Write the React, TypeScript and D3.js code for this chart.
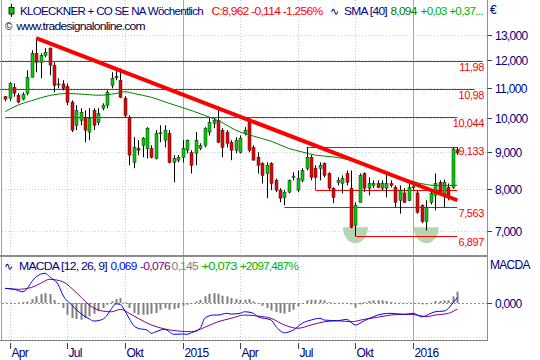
import React from 'react';
import * as d3 from 'd3';

const W = 540;
const H = 360;
const FONT = '"Liberation Sans", Arial, Helvetica, sans-serif';
const NAVY = '#000080';

// weekly candles, first week ending 2014-03-28
const firstWeek = '2014-03-28';
const open = [10.70,10.65,11.02,10.75,10.62,10.82,11.38,12.27,11.93,12.19,12.47,11.82,11.12,11.14,11.05,10.52,9.78,9.93,10.03,9.57,10.25,9.87,10.32,10.42,11.09,11.36,11.27,10.65,10.03,8.70,9.09,9.18,9.09,9.09,8.81,9.53,9.33,9.53,8.70,8.76,8.84,9.04,8.98,8.95,9.09,9.18,9.57,9.84,9.93,9.63,9.57,9.27,9.04,8.98,9.53,9.87,9.12,8.84,8.67,8.40,8.67,8.22,7.97,7.79,7.92,8.30,7.97,8.22,8.54,8.84,8.54,8.54,8.67,8.40,8.02,8.17,8.14,8.40,8.02,7.13,7.67,8.40,8.02,8.09,8.14,8.02,8.02,8.14,8.04,7.72,7.90,7.72,8.04,7.90,7.60,7.22,7.67,7.84,8.17,7.84,8.04,8.04,9.05];
const high = [10.72,11.20,11.16,10.82,10.85,11.63,12.39,12.87,12.27,12.47,12.50,11.93,11.34,11.27,11.16,10.58,10.42,10.32,10.25,10.32,10.32,10.32,10.48,10.92,11.56,11.63,11.70,10.72,10.09,9.42,9.33,9.42,9.72,9.18,9.63,9.78,9.78,9.63,8.90,8.90,9.33,9.35,9.04,9.57,9.24,9.72,10.03,10.00,10.38,9.69,9.63,9.33,9.42,9.47,9.72,10.00,9.18,8.98,8.70,8.70,8.70,8.27,8.02,7.97,8.24,8.43,8.48,8.54,9.12,8.90,8.62,8.70,8.70,8.43,8.04,8.30,8.35,8.48,8.48,7.67,8.40,8.43,8.30,8.22,8.22,8.22,8.40,8.22,8.09,8.09,8.02,8.14,8.09,7.95,7.62,7.72,7.97,8.40,8.22,8.24,8.14,9.12,9.133];
const low = [10.55,10.55,10.70,10.48,10.58,10.75,11.38,11.56,11.34,12.12,11.45,10.85,10.99,10.92,10.42,9.57,9.63,9.78,9.27,9.33,9.63,9.78,10.25,10.32,10.99,11.27,10.65,10.03,8.62,8.54,8.90,8.84,8.81,8.81,8.78,9.27,9.12,8.67,8.17,8.70,8.70,8.95,8.40,8.62,9.04,9.12,9.47,9.69,9.24,8.84,9.12,8.76,8.95,8.95,9.47,8.98,8.76,8.40,8.14,7.77,7.97,7.92,7.67,7.60,7.89,8.22,7.92,8.17,8.48,8.22,8.27,8.22,8.30,7.97,7.65,8.09,7.89,8.09,7.07,6.897,7.67,7.92,7.84,8.02,8.02,7.97,7.79,8.04,7.55,7.40,7.65,7.70,7.97,7.40,7.18,7.02,7.62,7.48,7.84,7.55,7.72,8.00,8.90];
const close = [10.62,11.16,10.82,10.52,10.78,11.38,12.27,11.93,12.19,12.31,11.82,11.09,11.14,10.99,10.52,9.63,10.25,10.19,9.63,10.00,9.78,10.15,10.42,10.85,11.34,11.40,10.68,10.09,8.90,9.12,9.04,9.39,9.69,8.84,9.53,9.55,9.63,8.70,8.81,8.84,9.09,9.33,8.62,9.33,9.18,9.69,9.87,9.93,9.27,9.12,9.24,9.04,9.33,9.39,9.63,9.04,8.76,8.62,8.35,8.62,8.14,7.97,7.77,7.92,8.22,8.33,8.27,8.48,8.84,8.30,8.30,8.62,8.35,8.02,7.79,8.22,8.27,8.17,7.09,7.60,8.35,8.02,8.14,8.14,8.04,8.14,8.14,8.09,7.67,7.97,7.67,8.04,8.06,7.43,7.22,7.55,7.89,8.14,7.92,8.17,7.84,9.076,8.962];

// SMA 40 (candle number, value)
const smaIdx = [1,4,7,11,15,19,22,26,28,30,34,38,41,46,50,53,57,61,65,68,71,75,79,83,86,90,94,98,101,103];
const smaVal = [10.21,10.43,10.57,10.74,10.81,10.78,10.75,10.81,10.87,10.81,10.68,10.48,10.34,10.09,9.86,9.63,9.45,9.30,9.09,8.99,8.90,8.85,8.76,8.60,8.48,8.30,8.16,8.09,8.09,8.094];

// MACD line
const macdIdx = [1,3,5,6,7,8,10,11,13,14,16,18,20,21,23,24,25,26,27,28,29,30,31,33,34,35,37,38,39,41,42,43,45,46,48,49,51,52,54,55,57,58,61,62,64,66,68,70,72,73,76,78,80,82,84,86,88,91,93,95,98,100,101,102,103];
const macdVal = [0.188,0.176,0.145,0.188,0.273,0.337,0.381,0.337,0.231,0.103,-0.026,-0.132,-0.205,-0.231,-0.209,-0.154,-0.07,-0.01,-0.02,-0.10,-0.20,-0.29,-0.324,-0.346,-0.388,-0.368,-0.337,-0.368,-0.401,-0.397,-0.401,-0.381,-0.324,-0.196,-0.154,-0.154,-0.132,-0.141,-0.132,-0.112,-0.132,-0.176,-0.218,-0.295,-0.381,-0.346,-0.260,-0.218,-0.196,-0.218,-0.227,-0.209,-0.282,-0.227,-0.176,-0.141,-0.132,-0.145,-0.132,-0.176,-0.112,-0.103,-0.068,0.0,0.069];
// signal line
const sigIdx = [1,4,7,9,11,14,16,18,20,23,25,27,29,31,34,37,40,43,46,49,52,55,58,61,64,67,70,73,76,79,82,85,88,91,94,96,98,101,103];
const sigVal = [0.188,0.176,0.201,0.253,0.304,0.273,0.188,0.081,-0.026,-0.103,-0.112,-0.081,-0.132,-0.196,-0.282,-0.333,-0.359,-0.368,-0.312,-0.240,-0.196,-0.154,-0.167,-0.196,-0.282,-0.324,-0.282,-0.240,-0.227,-0.240,-0.209,-0.183,-0.154,-0.145,-0.154,-0.176,-0.154,-0.132,-0.076];
// histogram, one per candle
const histVal = [0.006,0.006,-0.006,0.006,0.013,0.019,
  0.051,0.086,0.115,0.128,0.115,0.038,-0.013,-0.064,-0.15,-0.192,-0.205,-0.214,-0.192,-0.171,-0.137,-0.106,-0.064,-0.022,0.022,0.051,0.064,0.009,-0.064,-0.128,-0.15,-0.15,-0.15,-0.137,-0.128,-0.086,-0.064,-0.086,-0.077,-0.064,-0.035,-0.022,-0.009,0.022,0.042,0.086,0.119,0.128,0.119,0.094,0.086,0.064,0.051,0.042,0.042,0.051,0.022,0,-0.035,-0.064,
  -0.094,-0.115,-0.128,-0.137,-0.115,-0.086,-0.042,0,0.035,0.042,0.042,0.042,0.035,0.013,0.003,0.003,0.003,0.003,-0.017,-0.06,-0.017,0.013,0.026,0.035,0.035,0.035,0.026,0.013,0.006,0.006,0.003,0.006,0.006,0.003,-0.017,-0.017,0.003,0.026,0.026,0.035,0.035,0.086,0.145];

const priceTicks = [7, 8, 9, 10, 11, 12, 13];
const priceTickLabels = ['7,000', '8,000', '9,000', '10,000', '11,000', '12,000', '13,000'];
const timeTicks = ['2014-04-04', '2014-07-04', '2014-10-03', '2015-01-02', '2015-04-03', '2015-07-03', '2015-10-02', '2016-01-01'];
const timeTickLabels = ['Apr', 'Jul', 'Okt', '2015', 'Apr', 'Jul', 'Okt', '2016'];

// horizontal levels (week position from/to)
const levelPrices = [11.98, 10.98, 10.044, 9.133, 7.97, 7.563, 6.897];
const levelFrom = [-0.3, -0.3, 1, 69, 71, 64, 80];
const levelTo = [108.7, 106.9, 103, 103, 103, 103, 103];
const levelLabels = ['11,98', '10,98', '10,044', '9,133', '', '7,563', '6,897'];
// box verticals
const boxIdx = [69, 71];
const boxTop = [9.133, 8.5];
const boxBottom = [8.87, 7.97];
// trendline
const trendIdx = [8, 103];
const trendPrice = [12.87, 7.72];
// double bottom markers
const bottomIdx = [80, 96];
const bottomTop = [7.09, 7.09];

// header texts: [text, x, width, colour]
const headerSegs: [string, number, number, string][] = [
  ['KLOECKNER + CO SE NA Wöchentlich', 20, 183, NAVY],
  ['C:8,962 -0,114 -1,256%', 211.5, 111, '#ff0000'],
  ['SMA [40]', 344, 43, NAVY],
  ['8,094', 390.5, 26, '#008000'],
  ['+0,03 +0,37...', 420.5, 62.5, '#00b000'],
];
const macdSegs: [string, number, number, string][] = [
  ['MACDA [12, 26, 9]', 19, 88, NAVY],
  ['0,069', 110.5, 26, '#0000ff'],
  ['-0,076', 140, 30, '#800080'],
  ['0,145', 171.5, 26.5, '#808080'],
  ['+0,073', 201.5, 35, '#00b000'],
  ['+2097,487%', 240, 58, '#00b000'],
];

const parse = d3.utcParse('%Y-%m-%d');

export default function App() {
  const start = parse(firstWeek) as Date;
  const weekDate = (n: number) => new Date(start.getTime() + (n - 1) * 7 * 86400000);
  const dates = open.map((_, i) => weekDate(i + 1));
  const x = d3.scaleUtc().domain([parse('2015-01-02') as Date, parse('2016-01-01') as Date]).range([182.5, 413]);
  const y = d3.scaleLog().domain([7, 13]).range([231.3, 35]);
  const ym = d3.scaleLinear().domain([-0.474, 0.603]).range([340, 256]);
  const xi = (n: number) => x(weekDate(n));

  const line = d3.line<[number, number]>().curve(d3.curveMonotoneX);
  const smaPath = line(smaIdx.map((n, k) => [xi(n), y(smaVal[k])]));
  const macdPath = line(macdIdx.map((n, k) => [xi(n), ym(macdVal[k])]));
  const sigPath = line(sigIdx.map((n, k) => [xi(n), ym(sigVal[k])]));

  const PR = 487.5; // right edge of plot
  const zero = ym(0);
  const crisp = (v: number) => Math.round(v) + 0.5;

  return (
    <svg width={W} height={H} style={{ position: 'absolute', left: 0, top: 0, background: '#fff' }}>
      <rect x={0} y={0} width={W} height={H} fill="#ffffff" />
      {/* horizontal grid */}
      {priceTicks.map((p) => (
        <line key={'hg' + p} x1={2} x2={PR} y1={crisp(y(p))} y2={crisp(y(p))} stroke="#cdcdcd" strokeDasharray="1,2" />
      ))}
      <line x1={2} x2={PR} y1={337.5} y2={337.5} stroke="#cdcdcd" strokeDasharray="1,2" />
      {/* vertical grid */}
      {timeTicks.map((t, i) => {
        const xx = crisp(x(parse(t) as Date));
        const yr = /^\d{4}$/.test(timeTickLabels[i]);
        return (
          <line key={'vg' + t} x1={xx} x2={xx} y1={0} y2={340} stroke={yr ? '#a8a8a8' : '#cdcdcd'} strokeDasharray={yr ? undefined : '1,2'} />
        );
      })}

      {/* double-bottom markers */}
      {bottomIdx.map((n, k) => {
        const cx = xi(n);
        const cy = y(bottomTop[k]);
        const rx = 12.5, ry = 16;
        return (
          <path key={'bm' + n} d={`M${cx - rx},${cy} A${rx},${ry} 0 0 0 ${cx + rx},${cy} Z`} fill="#a4cc9e" fillOpacity={0.8} />
        );
      })}

      {/* level lines */}
      {levelPrices.map((p, k) => {
        const yy = crisp(y(p));
        return (
          <line key={'lv' + k} x1={xi(levelFrom[k])} x2={xi(levelTo[k])} y1={yy} y2={yy} stroke="#ff0000" strokeWidth={1} />
        );
      })}
      {boxIdx.map((n, k) => (
        <line key={'bx' + k} x1={crisp(xi(n))} x2={crisp(xi(n))} y1={y(boxTop[k])} y2={y(boxBottom[k])} stroke="#ff0000" />
      ))}

      {/* candles */}
      {dates.map((d, i) => {
        const cx = Math.round(x(d));
        const o = open[i], c = close[i];
        const up = c >= o;
        const yTop = y(Math.max(o, c));
        const yBot = y(Math.min(o, c));
        const hgt = Math.max(1, yBot - yTop);
        return (
          <g key={'c' + i}>
            <line x1={cx + 0.5} x2={cx + 0.5} y1={y(high[i])} y2={y(low[i])} stroke="#000" strokeWidth={1} />
            <rect x={cx - 1} y={yTop} width={3} height={hgt} fill={up ? '#00cc00' : '#ee0000'} stroke="#202020" strokeWidth={0.5} />
          </g>
        );
      })}

      {/* SMA */}
      <path d={smaPath || ''} fill="none" stroke="#008000" strokeWidth={1} />
      {/* trendline */}
      <line x1={xi(trendIdx[0])} y1={y(trendPrice[0])} x2={xi(trendIdx[1])} y2={y(trendPrice[1])} stroke="#ff0000" strokeWidth={4} />

      {/* level labels */}
      <g fontFamily={FONT} fontSize={11} letterSpacing={-0.4} fill="#ff0000" textAnchor="end">
        {levelPrices.map((p, k) =>
          levelLabels[k] ? (
            <text key={'ll' + k} x={484} y={y(p) + (levelLabels[k] === '9,133' ? 8.5 : 10)}>{levelLabels[k]}</text>
          ) : null
        )}
      </g>

      {/* MACD panel */}
      <line x1={2} x2={PR} y1={crisp(zero)} y2={crisp(zero)} stroke="#909090" strokeDasharray="2,2" />
      {histVal.map((v, i) => {
        const cx = Math.round(x(dates[i]));
        const y1 = ym(Math.max(0, v));
        const y2 = ym(Math.min(0, v));
        return <rect key={'h' + i} x={cx - 0.5} y={y1} width={2} height={Math.max(0.5, y2 - y1)} fill="#808080" />;
      })}
      <path d={sigPath || ''} fill="none" stroke="#800080" strokeWidth={1} />
      <path d={macdPath || ''} fill="none" stroke="#0000ff" strokeWidth={1} />

      {/* frames */}
      <line x1={1.5} x2={1.5} y1={0} y2={340} stroke="#a0a0a0" />
      <rect x={0} y={255} width={PR} height={2} fill="#8c8c8c" />
      <line x1={0} x2={PR} y1={340.5} y2={340.5} stroke="#808080" />
      <line x1={PR} x2={PR} y1={0} y2={341} stroke="#909090" />

      {/* right axis */}
      <g fontFamily={FONT} fontSize={12} letterSpacing={-0.7} fill={NAVY}>
        {priceTicks.map((p, k) => {
          const yy = crisp(y(p));
          return (
            <g key={'ra' + p}>
              <line x1={PR} x2={PR + 4.5} y1={yy} y2={yy} stroke="#404040" />
              <text x={495} y={yy + 4.5}>{priceTickLabels[k]}</text>
            </g>
          );
        })}
        <line x1={PR} x2={PR + 4.5} y1={crisp(zero)} y2={crisp(zero)} stroke="#404040" />
        <text x={495} y={zero + 4.5}>0,000</text>
        <text x={490} y={269}>MACDA</text>
        <text x={490} y={14}>€</text>
      </g>

      {/* bottom axis */}
      <g fontFamily={FONT} fontSize={12} letterSpacing={-0.7} fill={NAVY}>
        {timeTicks.map((t, i) => {
          const xx = crisp(x(parse(t) as Date));
          return (
            <g key={'ta' + t}>
              <line x1={xx} x2={xx} y1={343} y2={349} stroke="#404040" />
              <text x={xx + 1} y={357}>{timeTickLabels[i]}</text>
            </g>
          );
        })}
      </g>

      {/* header */}
      <line x1={11.5} x2={11.5} y1={4} y2={17} stroke="#000" />
      <rect x={9} y={7.5} width={5} height={6.5} fill="#00cc00" stroke="#000" strokeWidth={0.8} />
      <g fontFamily={FONT} fontSize={11.5} letterSpacing={-0.7}>
        {headerSegs.map(([t, xx, w, col]) => (
          <text key={'hs' + t} x={xx} y={15} fill={col} textLength={w} lengthAdjust="spacingAndGlyphs">{t}</text>
        ))}
        <text x={330} y={15} fill={NAVY} fontFamily="DejaVu Sans" fontSize={11} letterSpacing={0}>∿</text>
        <text x={5} y={29.5} fill="#000040" fontSize={10} letterSpacing={0}>©</text>
        <text x={16.5} y={29.5} fill="#000040" textLength={128.5} lengthAdjust="spacingAndGlyphs">www.tradesignalonline.com</text>

        <text x={4} y={270} fill={NAVY} fontFamily="DejaVu Sans" fontSize={11} letterSpacing={0}>∿</text>
        {macdSegs.map(([t, xx, w, col]) => (
          <text key={'ms' + t} x={xx} y={270} fill={col} textLength={w} lengthAdjust="spacingAndGlyphs">{t}</text>
        ))}
      </g>
    </svg>
  );
}
